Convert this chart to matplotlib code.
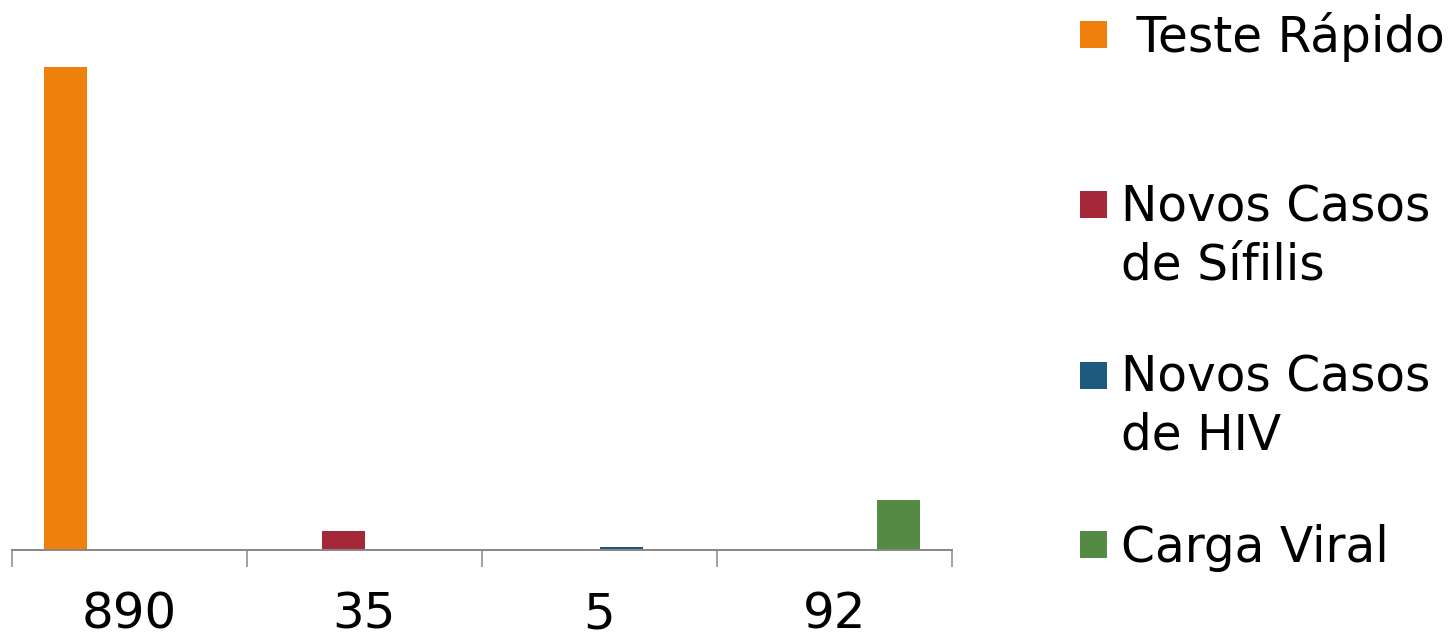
import matplotlib
matplotlib.use("Agg")
import matplotlib.pyplot as plt
from matplotlib.patches import Rectangle
import numpy as np

# ---- data ----
categories = ["890", "35", "5", "92"]
series_names = [" Teste Rápido", "Novos Casos\nde Sífilis", "Novos Casos\nde HIV", "Carga Viral"]
series_values = [890, 35, 5, 92]          # each series has a value only in its own category
series_colors = ["#F0800C", "#A52838", "#1E5A7E", "#548A44"]

W, H = 1451, 635
DPI = 100
fig = plt.figure(figsize=(W / DPI, H / DPI), dpi=DPI)
plt.rcParams['font.family'] = ['DejaVu Sans']

def px2fx(x):
    return x / W

def px2fy(y):
    return 1 - y / H

ax_left, ax_right = 12, 952
ax_bottom, ax_top = 550, 67
ax = fig.add_axes([px2fx(ax_left), px2fy(ax_bottom),
                   (ax_right - ax_left) / W, (ax_bottom - ax_top) / H])

n_cat = len(categories)
n_ser = len(series_values)
bar_w = 43 / 235
margin = (1 - n_ser * bar_w) / 2
for j, (v, c) in enumerate(zip(series_values, series_colors)):
    cat = j
    x = cat - 0.5 + margin + bar_w * (j + 0.5)
    ax.bar([x], [v], width=bar_w, color=c, linewidth=0)

ax.set_xlim(-0.5, n_cat - 0.5)
ax.set_ylim(0, max(series_values))

for s in ["top", "right", "left"]:
    ax.spines[s].set_visible(False)
ax.spines["bottom"].set_color("#878787")
ax.spines["bottom"].set_linewidth(1.4)
ax.set_yticks([])

ax.set_xticks(np.arange(n_cat))
ax.set_xticklabels(categories, fontsize=36)
ax.set_xticks(np.arange(n_cat + 1) - 0.5, minor=True)
ax.tick_params(axis="x", which="major", length=0, pad=29.5, colors="black")
ax.tick_params(axis="x", which="minor", length=12.2, width=1.1, color="#878787",
               direction="out")

# ---- legend (manual) ----
leg_fs = 35
marker_x0, marker_size = 1080, 27
entries = [
    # (marker top px, first baseline px)
    (21, 52),
    (191, 222),
    (362, 392),
    (531, 562),
]
line_gap = 58
text_x = 1121
for (mt, bl), name, c in zip(entries, series_names, series_colors):
    fig.patches.append(Rectangle((px2fx(marker_x0), px2fy(mt + marker_size)),
                                 marker_size / W, marker_size / H,
                                 transform=fig.transFigure, facecolor=c,
                                 edgecolor="none"))
    for k, line in enumerate(name.split("\n")):
        fig.text(px2fx(text_x), px2fy(bl + k * line_gap), line,
                 fontsize=leg_fs, va="baseline", ha="left", color="black")

fig.savefig("out.png", dpi=DPI)
